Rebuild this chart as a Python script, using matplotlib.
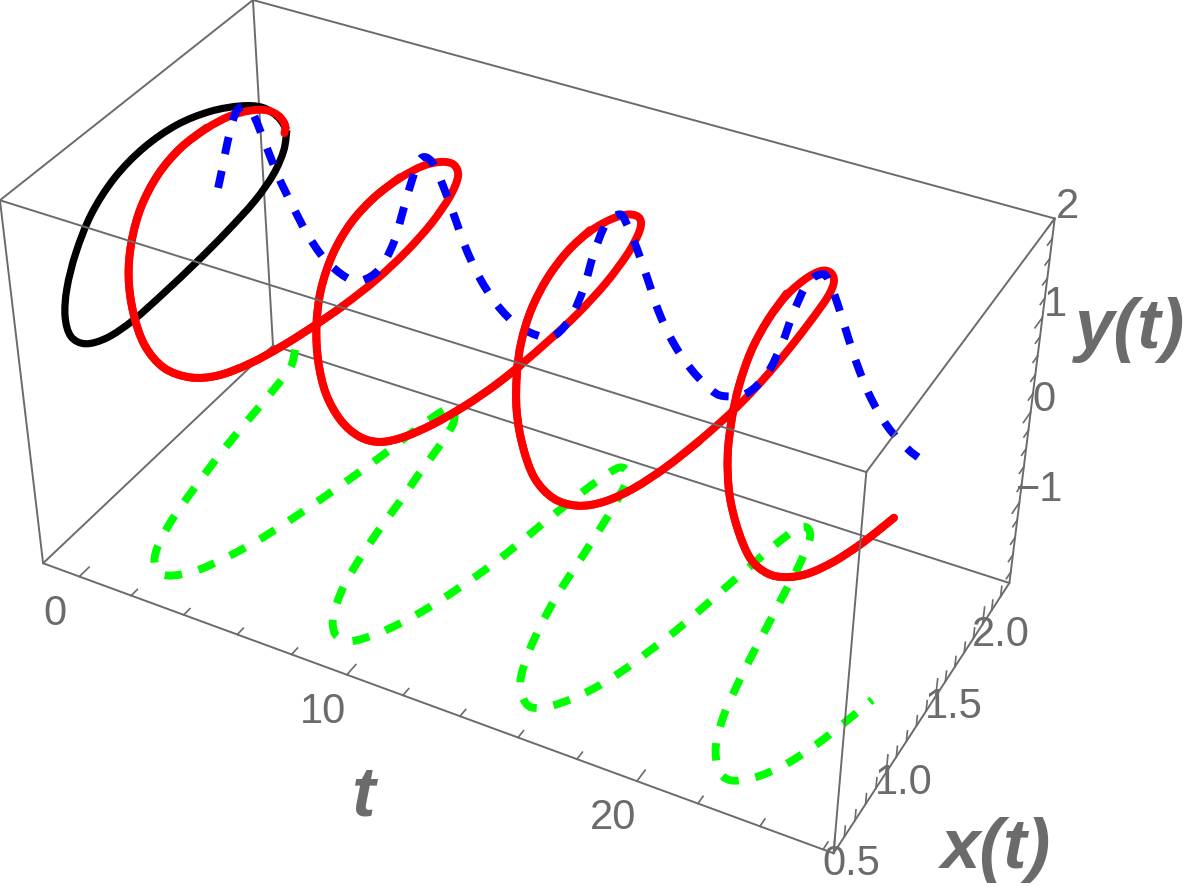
# 3D trajectory x(t), y(t) with its shadows, drawn with a small perspective camera
import numpy as np
import matplotlib
matplotlib.use('Agg')
import matplotlib.pyplot as plt
from matplotlib.path import Path
from matplotlib.patches import PathPatch

plt.rcParams['font.family'] = ['Liberation Sans', 'DejaVu Sans']

GRAY = '#6b6b6b'

# box limits
t_lim = (-1.4, 26.0)
x_lim = (0.5, 2.3)
y_lim = (-1.93, 2.0)

# trajectory
t_red = [0.00,0.00,0.00,0.00,0.10,0.20,0.35,0.55,0.80,1.10,1.45,1.80,2.15,2.50,2.85,3.25,3.60,4.00,4.35,4.65,4.90,5.20,5.40,5.65,5.90,6.15,6.35,6.55,6.70,6.90,7.10,7.35,7.65,7.95,8.25,8.55,8.85,9.20,9.55,9.90,10.25,10.60,10.95,11.25,11.45,11.65,11.90,12.20,12.45,12.70,12.90,13.10,13.30,13.50,13.70,13.95,14.20,14.50,14.75,15.05,15.35,15.70,16.05,16.45,16.85,17.25,17.60,17.90,18.20,18.35,18.55,18.75,18.95,19.25,19.45,19.60,19.80,19.95,20.20,20.40,20.65,20.90,21.15,21.40,21.70,22.00,22.35,22.70,23.05,23.40,23.75,24.05,24.25,24.50]
x_red = [2.21,2.23,2.18,2.09,1.94,1.77,1.57,1.34,1.13,0.94,0.80,0.70,0.65,0.64,0.69,0.80,0.92,1.08,1.26,1.46,1.61,1.82,2.03,2.19,2.30,2.32,2.23,2.08,1.89,1.66,1.41,1.18,0.98,0.82,0.72,0.66,0.64,0.67,0.73,0.80,0.90,1.06,1.25,1.42,1.57,1.78,1.95,2.14,2.28,2.32,2.26,2.10,1.89,1.64,1.40,1.17,0.98,0.83,0.74,0.66,0.64,0.64,0.71,0.81,0.92,1.07,1.27,1.48,1.70,1.82,1.94,2.07,2.23,2.30,2.28,2.18,2.01,1.81,1.54,1.31,1.09,0.92,0.80,0.70,0.64,0.65,0.67,0.73,0.79,0.89,1.03,1.19,1.29,1.37]
y_red = [0.78,0.84,1.01,1.18,1.35,1.50,1.61,1.70,1.70,1.61,1.45,1.26,0.99,0.68,0.40,0.19,0.08,0.04,0.03,0.03,0.05,0.09,0.16,0.29,0.49,0.71,0.96,1.18,1.38,1.54,1.66,1.71,1.68,1.54,1.34,1.09,0.80,0.51,0.29,0.17,0.12,0.07,0.05,0.06,0.08,0.10,0.16,0.29,0.47,0.70,0.91,1.17,1.40,1.60,1.72,1.76,1.72,1.62,1.47,1.23,0.93,0.63,0.35,0.17,0.09,0.05,0.03,0.04,0.07,0.11,0.19,0.29,0.42,0.61,0.80,1.04,1.30,1.49,1.70,1.77,1.79,1.69,1.57,1.39,1.12,0.78,0.47,0.28,0.19,0.10,0.05,0.02,0.03,0.08]

# y(t) on the plane x = x_blue
x_blue = 1.69
t_blue = [-0.01,0.19,0.45,0.83,1.14,1.47,1.88,2.30,2.77,3.28,3.84,4.71,5.19,5.94,6.52,6.84,7.19,7.50,7.91,8.28,8.65,9.02,9.47,10.14,10.84,11.82,12.17,12.75,13.17,13.42,13.80,14.35,14.46,14.88,15.27,15.63,16.13,16.76,17.52,17.79,18.70,19.30,19.69,19.97,20.33,20.87,20.98,21.38,21.73,22.14,22.59,23.16,23.94,24.20]
y_blue = [0.80,1.01,1.32,1.70,1.77,1.77,1.44,1.11,0.86,0.58,0.36,0.22,0.23,0.41,0.78,1.16,1.50,1.80,1.79,1.54,1.27,0.96,0.69,0.43,0.27,0.24,0.29,0.55,0.92,1.28,1.67,1.80,1.72,1.48,1.19,0.89,0.62,0.39,0.23,0.20,0.29,0.58,0.93,1.29,1.67,1.78,1.73,1.48,1.20,0.91,0.65,0.41,0.24,0.21]

# x(t) on the floor
t_green = [-0.58,-0.10,0.01,0.16,0.30,0.47,0.69,0.91,1.27,1.64,2.20,2.54,3.15,3.55,3.98,4.27,4.55,4.80,5.05,5.28,5.45,5.78,5.87,6.47,6.63,6.78,6.99,7.11,7.31,7.56,8.04,8.49,8.93,9.23,9.73,10.22,10.60,10.88,11.20,11.42,11.62,11.88,12.12,12.42,13.00,13.25,13.43,13.58,13.70,13.93,14.22,14.61,15.34,15.72,16.26,16.78,17.18,17.46,17.77,17.99,18.21,18.43,18.69,19.00,19.52,19.82,19.98,20.17,20.32,20.51,20.72,21.09,21.68,22.10,22.69,23.25,23.66,23.98,24.38]
x_green = [2.32,2.20,2.02,1.82,1.61,1.42,1.22,1.02,0.83,0.72,0.67,0.68,0.76,0.89,1.04,1.20,1.36,1.53,1.70,1.87,2.07,2.26,2.29,2.19,1.98,1.77,1.57,1.37,1.18,0.97,0.78,0.69,0.67,0.68,0.77,0.91,1.06,1.21,1.37,1.55,1.73,1.93,2.09,2.28,2.21,1.97,1.75,1.55,1.35,1.16,0.97,0.78,0.67,0.68,0.76,0.89,1.04,1.20,1.36,1.53,1.71,1.87,2.07,2.27,2.23,1.99,1.77,1.57,1.38,1.19,1.00,0.81,0.69,0.66,0.72,0.84,0.99,1.14,1.36]

# closed loop x-y on the plane t = 0
x_black = [2.23,2.21,2.12,1.97,1.73,1.50,1.24,1.02,0.84,0.69,0.60,0.58,0.61,0.69,0.81,0.98,1.19,1.43,1.67,1.91,2.06,2.18,2.23]
y_black = [0.79,0.60,0.44,0.33,0.27,0.23,0.21,0.20,0.25,0.38,0.58,0.83,1.08,1.35,1.61,1.77,1.83,1.79,1.65,1.43,1.25,0.99,0.79]

# ticks
t_major = [0, 10, 20]
t_minor = [2, 4, 6, 8, 12, 14, 16, 18, 22, 24, 26]
x_major = [0.5, 1.0, 1.5, 2.0]
x_minor = [0.6, 0.7, 0.8, 0.9, 1.1, 1.2, 1.3, 1.4, 1.6, 1.7, 1.8, 1.9, 2.1, 2.2]
y_major = [-1, 0, 1, 2]
y_minor = [-1.8, -1.6, -1.4, -1.2, -0.8, -0.6, -0.4, -0.2, 0.2, 0.4, 0.6, 0.8, 1.2, 1.4, 1.6, 1.8]
T_TICK = 0.9875  # t ticks sit a little tighter than the box suggests

# camera: fitted so that the box corners land where they are in the image
t0, t1 = t_lim
x0, x1 = x_lim
y0, y1 = y_lim
box = [(t0,x0,y0),(t1,x0,y0),(t1,x1,y0),(t0,x1,y0),(t0,x0,y1),(t1,x0,y1),(t1,x1,y1),(t0,x1,y1)]
img = [(43,563),(833,853),(1010,583),(273,346),(0,200),(867,473),(1054,218),(253,0)]
A, b = [], []
for (t, x, y), (u, v) in zip(box, img):
    A.append([t,x,y,1,0,0,0,0,-u*t,-u*x,-u*y]); b.append(u)
    A.append([0,0,0,0,t,x,y,1,-v*t,-v*x,-v*y]); b.append(v)
cam = np.linalg.lstsq(np.array(A, float), np.array(b, float), rcond=None)[0]
cam = np.append(cam, 1).reshape(3, 4)

def proj(t, x, y):
    t, x, y = np.broadcast_arrays(np.asarray(t, float), np.asarray(x, float), np.asarray(y, float))
    w = cam @ np.array([t.ravel(), x.ravel(), y.ravel(), np.ones(t.size)])
    return w[0] / w[2], w[1] / w[2]

def curve(ax, t, x, y, **kw):
    # rounded through the points (B-spline weights, then Catmull-Rom) so the loops stay round
    u, v = proj(t, x, y)
    p = np.column_stack([u, v])
    if len(p) > 3:
        p[1:-1] = (p[:-2] + 4 * p[1:-1] + p[2:]) / 6
    q = np.vstack([p[0], p, p[-1]])
    verts = [p[0]]
    codes = [Path.MOVETO]
    for i in range(1, len(q) - 2):
        verts += [q[i] + (q[i+1] - q[i-1]) / 6, q[i+1] - (q[i+2] - q[i]) / 6, q[i+1]]
        codes += [Path.CURVE4] * 3
    ax.add_patch(PathPatch(Path(verts, codes), fill=False, **kw))

fig = plt.figure(figsize=(11.86, 8.86), dpi=100)
ax = fig.add_axes([0, 0, 1, 1])
ax.set_xlim(0, 1186)
ax.set_ylim(886, 0)
ax.axis('off')

def edge(a, b, z):
    u, v = proj(*np.array([box[a], box[b]]).T)
    ax.plot(u, v, color=GRAY, lw=1.4, zorder=z, solid_capstyle='round', clip_on=False)

for a, b in [(0,1),(1,2),(2,3),(3,0),(3,7),(7,4),(7,6),(2,6),(0,4)]:
    edge(a, b, 1)
for a, b in [(4,5),(5,6),(1,5)]:
    edge(a, b, 6)

def tick(t, x, y, dt=0, dx=0, dy=0, lw=1.2):
    u, v = proj([t, t + dt], [x, x + dx], [y, y + dy])
    ax.plot(u, v, color=GRAY, lw=lw, zorder=1)

for t in t_major:
    tick(t * T_TICK, x0, y0, dx=0.07)
for t in t_minor:
    tick(t * T_TICK, x0, y0, dx=0.045)
for x in x_major:
    tick(t1, x, y0, dy=0.2)
for x in x_minor:
    tick(t1, x, y0, dy=0.12)
for y in y_major:
    tick(t1, x1, y, dx=-0.08)
for y in y_minor:
    tick(t1, x1, y, dx=-0.05)

LW_DASH = 5.7
dash = (0, (2.2, 2.15))
curve(ax, t_green, x_green, y0, edgecolor='#00ff00', lw=LW_DASH, linestyle=dash, capstyle='butt', zorder=2)
curve(ax, 0, x_black, y_black, edgecolor='black', lw=5.2, zorder=2.5, joinstyle='round')

red = dict(edgecolor='#ff0000', lw=5.7, capstyle='round', joinstyle='round')
curve(ax, t_red, x_red, y_red, zorder=3, **red)
curve(ax, t_blue, x_blue, y_blue, edgecolor='#0000ff', lw=LW_DASH, linestyle=dash, capstyle='butt', zorder=4)

# parts of the red line in front of the blue plane go on top again
tr, xr, yr = np.array(t_red), np.array(x_red), np.array(y_red)
front = xr < x_blue
start = None
for i in range(len(xr) + 1):
    if i < len(xr) and front[i]:
        if start is None:
            start = i
    elif start is not None:
        if i - start > 1:
            curve(ax, tr[start:i], xr[start:i], yr[start:i], zorder=5, **red)
        start = None

# tick labels
lab = dict(color=GRAY, fontsize=30, ha='center', va='center', zorder=7)
for t in t_major:
    u, v = proj(t * T_TICK, x0, y0)
    ax.text(u[0] - 24, v[0] + 37, str(t), **lab)
for x in x_major:
    u, v = proj(t1, x, y0)
    ax.text(u[0] + 18, v[0] + 11, '%.1f' % x, **lab)
for y in y_major:
    u, v = proj(t1, x1, y)
    ax.text(u[0] + (20 if y < 0 else 13), v[0] - 12, str(y).replace('-', '\u2212'), **lab)

# axis titles
ttl = dict(color=GRAY, fontsize=51, fontweight='bold', fontstyle='italic', ha='center', va='center', zorder=7)
ax.text(363, 797, 't', **ttl)
ax.text(995, 850, 'x(t)', **ttl)
ax.text(1130, 330, 'y(t)', **ttl)

fig.savefig('out.png', dpi=100)
